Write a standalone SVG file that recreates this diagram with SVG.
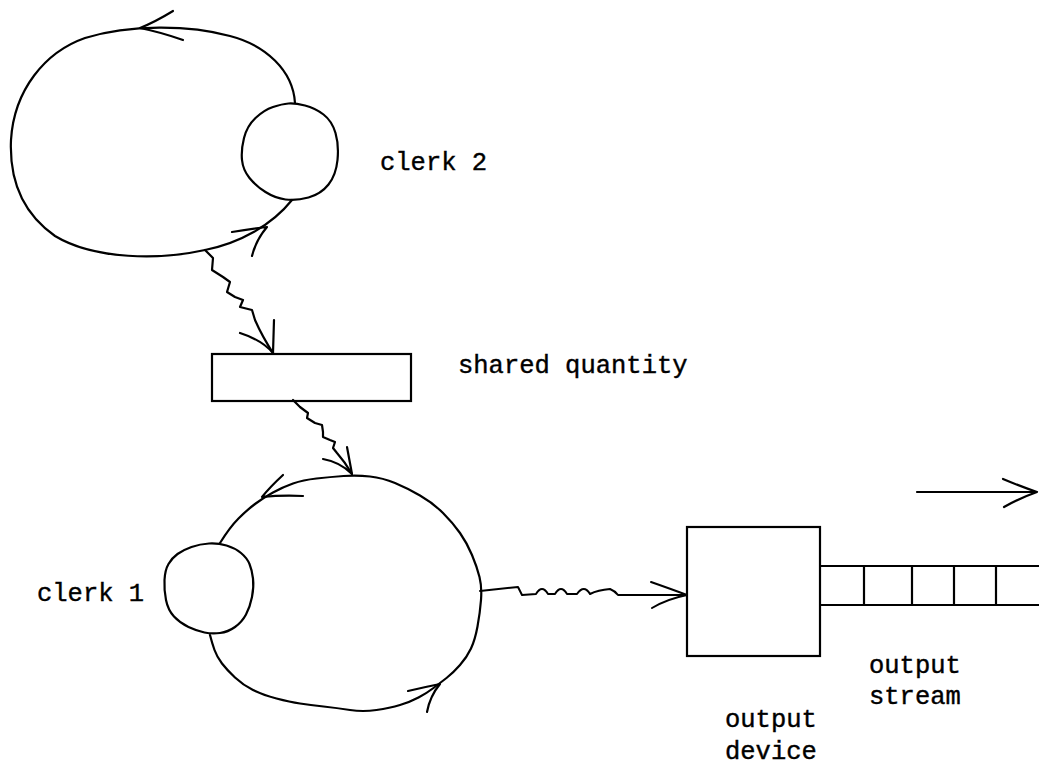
<svg xmlns="http://www.w3.org/2000/svg" width="1039" height="767" viewBox="0 0 1039 767">
<style>
.ln{fill:none;stroke:#000;stroke-width:2.2;stroke-linecap:round;stroke-linejoin:round}
.th{fill:none;stroke:#000;stroke-width:2;stroke-linecap:round;stroke-linejoin:round}
.bx{fill:#fff;stroke:#000;stroke-width:2.2}
.t{font-family:"Liberation Mono","Courier New",monospace;font-size:25.5px;fill:#000;stroke:#000;stroke-width:0.4}
</style>
<rect width="1039" height="767" fill="#fff"/>
<g id="clerk2">
<path class="ln" d="M295,103 C293,70 265,45 230,36 C190,25 130,24 85,38 C45,52 14,90 11,140 C9,185 25,215 55,236 C95,260 160,260 205,250 C240,243 272,225 292,200"/>
<path class="ln" d="M173,11 Q155,22 140,28 Q160,32 183,40"/>
<path class="ln" d="M232,232 Q250,229 267,227 Q256,240 252,256"/>
<path class="ln" d="M305,105.5 Q315,108 323.5,114.5 Q332,121 335.5,133 Q339,145 337.5,160 Q336,175 328.5,184.5 Q321,194 308.5,197.5 Q296,201 285.5,199.5 Q275,198 265.5,192 Q256,186 249.5,178 Q243,170 242,160 Q241,150 244,138 Q247,126 255.5,118 Q264,110 273,107 Q282,104 288.5,103.5 Q295,103 305,105.5 Z"/>
<text class="t" x="380" y="170">clerk 2</text>
</g>
<g id="shared">
<rect class="bx" x="212" y="354" width="199" height="47"/>
<text class="t" x="458" y="373">shared quantity</text>
</g>
<g id="clerk1">
<path class="ln" d="M220,543 Q230,527 238.5,518.5 Q247,510 255,504 Q263,498 273,492.5 Q283,487 293,483.5 Q303,480 316.5,478.5 Q330,477 343.5,476 Q357,475 370,476.5 Q383,478 395,483 Q407,488 420,495.5 Q433,503 443,513 Q453,523 460,533 Q467,543 472,555 Q477,567 479.5,577 Q482,587 481,600 Q480,613 477.5,626.5 Q475,640 471,648.5 Q467,657 460,665 Q453,673 446.5,678 Q440,683 433.5,688 Q427,693 418.5,697.5 Q410,702 400,705 Q390,708 376.5,710 Q363,712 350,710 Q337,708 323.5,706.5 Q310,705 300,703.5 Q290,702 276.5,698.5 Q263,695 253,690 Q243,685 235,677.5 Q227,670 222,663.5 Q217,657 214.5,650 Q212,643 210,635"/>
<path class="ln" d="M283,475 Q270,487 262,497 Q282,495 303,496"/>
<path class="ln" d="M408,691 Q425,687 440,684 Q430,696 427,712"/>
<path class="ln" d="M226.5,545.5 Q235,548 241,553 Q247,558 249.5,564 Q252,570 253,578.5 Q254,587 252,597 Q250,607 246,614.5 Q242,622 235,627 Q228,632 220,633 Q212,634 204.5,632.5 Q197,631 188.5,627 Q180,623 174,616.5 Q168,610 166,600 Q164,590 164.5,580 Q165,570 168.5,564 Q172,558 177.5,554 Q183,550 191.5,547 Q200,544 209,543.5 Q218,543 226.5,545.5 Z"/>
<text class="t" x="37" y="601">clerk 1</text>
</g>
<g id="output-device">
<rect class="bx" x="687" y="527" width="133" height="129"/>
<text class="t" x="725" y="727">output</text>
<text class="t" x="725" y="759">device</text>
</g>
<g id="output-stream">
<path class="ln" d="M820,566 H1039 M820,605 H1039 M864,566 V605 M912,566 V605 M954,566 V605 M996,566 V605"/>
<path class="ln" d="M917,492 H1037 M1003,479 Q1022,487 1037,492 Q1020,498 1004,507"/>
<text class="t" x="869" y="673">output</text>
<text class="t" x="869" y="704">stream</text>
</g>
<g id="connectors">
<path class="ln" d="M205,250 L213,258 L212,270 L223,277 L230,282 L227,292 L235,297 L243,300 L240,307 L252,310 L255,320 Q262,336 273,353"/>
<path class="ln" d="M240,333 Q262,340 273,353 L274,320"/>
<path class="ln" d="M293,400 L300,407 L308,413 L307,418 L315,423 L322,425 L323,432 L323,437 L330,440 L335,442 L333,448 L337,453 Q345,462 352,474"/>
<path class="ln" d="M323,459 Q340,462 352,474 L347,447"/>
<path class="th" d="M480,591 L518,587 L522,595 L536,594 Q542,584 548,594 L555,594 Q561,584 567,594 L577,594 Q584,584 590,594 Q598,590 610,589 Q615,591 618,595 L687,595"/>
<path class="th" d="M651,582 Q671,589 687,595 Q667,599 652,608"/>
</g>
</svg>
